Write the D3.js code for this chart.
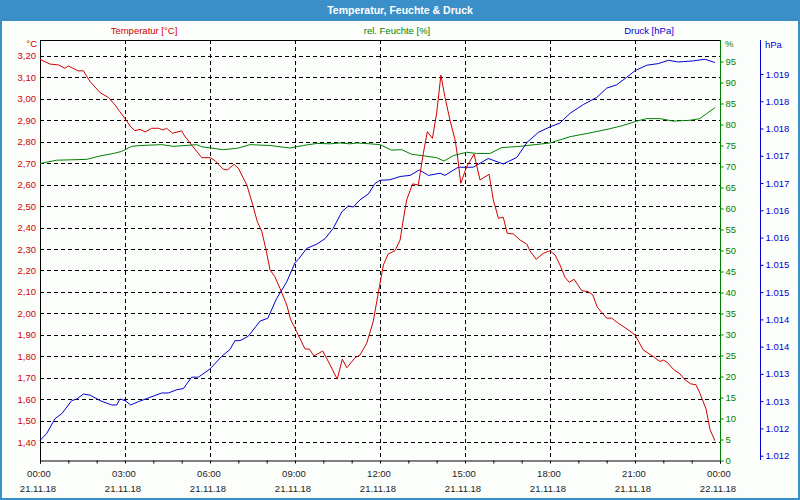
<!DOCTYPE html>
<html><head><meta charset="utf-8">
<script src="https://cdn.jsdelivr.net/npm/d3@7"></script>
<style>
html,body{margin:0;padding:0;background:#fff;}
text{font-family:"Liberation Sans",Arial,sans-serif;}
</style></head>
<body><svg id="chart" width="800" height="500"></svg>
<script>
// ---- data (time in hours since 21.11.18 00:00) ----
const title = "Temperatur, Feuchte & Druck";
const seriesNames = ["Temperatur [°C]", "rel. Feuchte [%]", "Druck [hPa]"];
const unitLabels = ["°C", "%", "hPa"];

const temperature = [[0.00,3.183],[0.35,3.161],[0.65,3.157],[0.88,3.141],[1.00,3.152],[1.35,3.129],[1.53,3.130],[1.77,3.079],[2.12,3.028],[2.41,3.006],[2.65,2.970],[2.82,2.939],[3.04,2.900],[3.18,2.872],[3.35,2.851],[3.53,2.857],[3.71,2.845],[3.94,2.862],[4.18,2.862],[4.33,2.854],[4.47,2.862],[4.68,2.839],[5.00,2.850],[5.08,2.831],[5.35,2.784],[5.71,2.725],[6.00,2.725],[6.18,2.711],[6.47,2.671],[6.61,2.668],[6.85,2.694],[7.00,2.676],[7.30,2.598],[7.51,2.505],[7.67,2.427],[7.83,2.381],[7.98,2.295],[8.12,2.202],[8.29,2.171],[8.47,2.117],[8.71,2.039],[8.85,1.970],[9.06,1.915],[9.35,1.835],[9.51,1.833],[9.67,1.802],[9.98,1.825],[10.24,1.760],[10.49,1.694],[10.67,1.787],[10.83,1.747],[11.12,1.794],[11.29,1.806],[11.53,1.861],[11.76,1.962],[11.98,2.125],[12.12,2.226],[12.29,2.277],[12.53,2.292],[12.71,2.342],[12.82,2.435],[12.94,2.528],[13.15,2.603],[13.35,2.598],[13.53,2.746],[13.67,2.846],[13.85,2.815],[14.00,2.932],[14.15,3.110],[14.29,3.009],[14.47,2.900],[14.65,2.808],[14.73,2.738],[14.85,2.606],[15.06,2.683],[15.32,2.742],[15.53,2.621],[15.85,2.648],[16.00,2.528],[16.18,2.443],[16.35,2.448],[16.49,2.373],[16.71,2.370],[16.94,2.342],[17.18,2.323],[17.29,2.292],[17.51,2.252],[17.77,2.280],[18.00,2.292],[18.18,2.272],[18.35,2.226],[18.53,2.168],[18.68,2.145],[18.85,2.159],[19.12,2.106],[19.35,2.101],[19.51,2.086],[19.67,2.029],[20.00,1.978],[20.18,1.978],[20.41,1.954],[20.68,1.931],[21.00,1.900],[21.29,1.830],[21.65,1.799],[21.88,1.776],[22.00,1.783],[22.15,1.771],[22.35,1.740],[22.59,1.718],[22.77,1.690],[22.97,1.672],[23.15,1.668],[23.29,1.629],[23.51,1.554],[23.65,1.458],[23.82,1.408]];

const humidity = [[0.00,70.7],[0.59,71.5],[1.65,71.7],[2.12,72.5],[2.59,73.1],[2.88,73.6],[3.24,74.8],[3.53,75.0],[4.30,75.2],[4.71,74.8],[5.53,75.2],[5.71,74.7],[6.47,74.0],[7.00,74.4],[7.41,75.2],[8.12,75.0],[8.82,74.4],[9.29,75.0],[9.77,75.5],[10.24,75.4],[10.59,75.6],[10.94,75.4],[11.18,75.6],[11.65,75.4],[12.00,75.2],[12.41,73.9],[12.77,74.0],[13.12,72.9],[13.59,72.5],[14.00,72.1],[14.26,71.3],[14.59,72.6],[15.06,73.4],[15.41,73.1],[15.88,73.1],[16.30,74.5],[16.94,74.8],[18.00,75.6],[18.71,77.1],[19.41,78.0],[20.12,79.0],[20.59,79.8],[21.06,80.8],[21.41,81.4],[21.88,81.4],[22.35,80.8],[22.94,81.0],[23.29,81.4],[23.53,82.6],[23.82,84.0]];

const pressure = [[0.00,1012.03],[0.24,1012.16],[0.53,1012.43],[0.77,1012.52],[1.12,1012.76],[1.30,1012.79],[1.53,1012.88],[1.77,1012.86],[2.12,1012.76],[2.53,1012.68],[2.71,1012.68],[2.82,1012.79],[3.00,1012.76],[3.20,1012.68],[3.47,1012.74],[3.88,1012.82],[4.30,1012.90],[4.53,1012.90],[4.83,1012.96],[5.06,1012.98],[5.35,1013.19],[5.59,1013.19],[6.00,1013.34],[6.41,1013.57],[6.71,1013.70],[6.88,1013.86],[7.06,1013.86],[7.35,1013.94],[7.77,1014.22],[8.04,1014.27],[8.35,1014.63],[8.71,1014.94],[9.00,1015.29],[9.12,1015.35],[9.41,1015.55],[9.77,1015.63],[10.06,1015.73],[10.35,1015.92],[10.65,1016.22],[10.88,1016.33],[11.06,1016.31],[11.29,1016.44],[11.59,1016.55],[11.82,1016.74],[12.00,1016.80],[12.35,1016.81],[12.71,1016.87],[13.06,1016.89],[13.39,1016.99],[13.71,1016.89],[14.12,1016.93],[14.29,1016.89],[14.76,1017.04],[15.29,1017.04],[15.82,1017.20],[16.35,1017.10],[16.83,1017.22],[17.18,1017.49],[17.59,1017.68],[18.00,1017.78],[18.35,1017.85],[18.71,1018.03],[19.18,1018.19],[19.65,1018.32],[20.00,1018.49],[20.35,1018.55],[20.71,1018.69],[21.00,1018.81],[21.41,1018.91],[21.82,1018.94],[22.18,1019.00],[22.53,1018.97],[23.06,1018.99],[23.47,1019.02],[23.82,1018.96]];

const tempTicks = [1.4,1.5,1.6,1.7,1.8,1.9,2.0,2.1,2.2,2.3,2.4,2.5,2.6,2.7,2.8,2.9,3.0,3.1,3.2];
const humTicks = [0,5,10,15,20,25,30,35,40,45,50,55,60,65,70,75,80,85,90,95];
const pressTicks = [1011.75,1012.25,1012.75,1013.25,1013.75,1014.25,1014.75,1015.25,1015.75,1016.25,1016.75,1017.25,1017.75,1018.25,1018.75];
const timeLabelHours = [0,3,6,9,12,15,18,21,24];

// ---- setup ----
const de = d3.formatLocale({decimal:",", thousands:".", grouping:[3], currency:["","€"]});
const fmtT = de.format(",.2f"), fmtP = de.format(",.0f");
const start = new Date(2018,10,21,0,0);
const toDate = h => new Date(start.getTime() + h*3600000);

const L = 40, R = 720, T = 40, B = 460;
const cRed = "#d00000", cGreen = "#008000", cBlue = "#0000d0";

const svg = d3.select("#chart");
svg.append("rect").attr("width",800).attr("height",500).attr("fill","#fcfefc");
svg.append("rect").attr("x",1).attr("y",1).attr("width",798).attr("height",498)
  .attr("fill","none").attr("stroke","#3b8fc8").attr("stroke-width",2);
svg.append("rect").attr("x",0).attr("y",0).attr("width",800).attr("height",21).attr("fill","#3b8fc8");
svg.append("text").attr("x",400).attr("y",14).attr("text-anchor","middle")
  .attr("fill","#fff").attr("font-weight","bold").attr("font-size",10.5).text(title);

const x = d3.scaleTime().domain([start, toDate(24)]).range([L, R]);
const yT = d3.scaleLinear().domain([1.3176, 3.273]).range([B, T]);
const yH = d3.scaleLinear().domain([0, 100]).range([B+0.5, T+0.5]);
const yP = d3.scaleLinear().domain([1011.671, 1019.373]).range([B, T]);

// legend header
const legendX = [144, 397, 649], legendCol = [cRed, cGreen, cBlue];
seriesNames.forEach((n,i)=>{
  svg.append("text").attr("x",legendX[i]).attr("y",34).attr("text-anchor","middle")
    .attr("font-size",9.5).attr("fill",legendCol[i]).text(n);
});

// grid
const grid = svg.append("g").attr("stroke","#000").attr("stroke-dasharray","4,3").attr("stroke-width",1);
tempTicks.forEach(t=>{
  const yy = Math.round(yT(t))+0.5;
  grid.append("line").attr("x1",L).attr("x2",R).attr("y1",yy).attr("y2",yy);
});
[3,6,9,12,15,18,21].forEach(h=>{
  const xx = Math.round(x(toDate(h)))+0.5;
  grid.append("line").attr("x1",xx).attr("x2",xx).attr("y1",T).attr("y2",B);
});

// axes frames
svg.append("line").attr("x1",L+0.5).attr("x2",L+0.5).attr("y1",T).attr("y2",B+1).attr("stroke","#000");
svg.append("line").attr("x1",L).attr("x2",R).attr("y1",T+0.5).attr("y2",T+0.5).attr("stroke","#000");

// bottom axis
const xAxis = d3.axisBottom(x).ticks(d3.timeHour.every(1)).tickSize(3).tickFormat("");
const gx = svg.append("g").attr("transform",`translate(0,${B+0.5})`).call(xAxis);
gx.select(".domain").attr("stroke","#000");
gx.selectAll(".tick line").attr("stroke","#000");
timeLabelHours.forEach(h=>{
  const d = toDate(h);
  svg.append("text").attr("x",x(d)-1).attr("y",477).attr("text-anchor","middle")
    .attr("font-size",9.5).attr("fill","#222").text(d3.timeFormat("%H:%M")(d));
  svg.append("text").attr("x",x(d)-2).attr("y",492).attr("text-anchor","middle")
    .attr("font-size",9.5).attr("fill","#222").text(d3.timeFormat("%d.%m.%y")(d));
});

// left axis labels
const gL = svg.append("g").attr("transform",`translate(${L},0)`)
  .call(d3.axisLeft(yT).tickValues(tempTicks).tickSize(0).tickPadding(4).tickFormat(fmtT));
gL.select(".domain").remove();
gL.selectAll("text").attr("fill",cRed).attr("font-size",9.5).attr("font-family","Liberation Sans, Arial, sans-serif");
svg.append("text").attr("x",37).attr("y",47).attr("text-anchor","end").attr("font-size",9.5).attr("fill",cRed).text(unitLabels[0]);

// right humidity axis
const gH = svg.append("g").attr("transform",`translate(${R+0.5},0)`)
  .call(d3.axisRight(yH).tickValues(humTicks).tickSize(3).tickPadding(2).tickFormat(d3.format("d")));
gH.select(".domain").attr("stroke",cGreen).attr("d",`M0,${T}V${B+1}`);
gH.selectAll(".tick line").attr("stroke",cGreen);
gH.selectAll("text").attr("fill",cGreen).attr("font-size",9.5).attr("font-family","Liberation Sans, Arial, sans-serif");
svg.append("text").attr("x",725).attr("y",47).attr("font-size",9.5).attr("fill",cGreen).text(unitLabels[1]);

// right pressure axis
const gP = svg.append("g").attr("transform",`translate(760.5,0)`)
  .call(d3.axisRight(yP).tickValues(pressTicks).tickSize(3).tickPadding(2).tickFormat(fmtP));
gP.select(".domain").attr("stroke",cBlue).attr("d",`M0,${T}V${B}`);
gP.selectAll(".tick line").attr("stroke",cBlue);
gP.selectAll("text").attr("fill",cBlue).attr("font-size",9.5).attr("font-family","Liberation Sans, Arial, sans-serif");
svg.append("text").attr("x",765).attr("y",48).attr("font-size",9.5).attr("fill",cBlue).text(unitLabels[2]);

// series lines
const mk = ys => d3.line().x(d=>x(toDate(d[0]))).y(d=>ys(d[1]));
svg.append("path").datum(humidity).attr("d",mk(yH)).attr("fill","none").attr("stroke",cGreen).attr("stroke-width",1);
svg.append("path").datum(pressure).attr("d",mk(yP)).attr("fill","none").attr("stroke",cBlue).attr("stroke-width",1);
svg.append("path").datum(temperature).attr("d",mk(yT)).attr("fill","none").attr("stroke",cRed).attr("stroke-width",1);
</script></body></html>
